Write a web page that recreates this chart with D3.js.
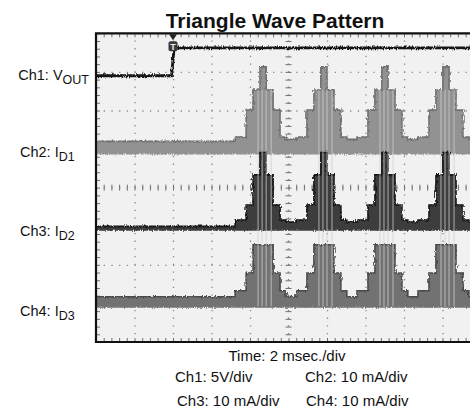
<!DOCTYPE html>
<html><head><meta charset="utf-8">
<script src="https://cdn.jsdelivr.net/npm/d3@7/dist/d3.min.js"></script>
<style>
html,body{margin:0;padding:0;background:#fff;}
svg{display:block;font-family:"Liberation Sans",Arial,sans-serif;}
</style></head>
<body>
<svg id="chart" width="470" height="413"></svg>
<script>
// ---------------- data ----------------
// time in ms (2 ms/div, 10 div), trigger at 4 ms
const ch1Times = [0, 3.92, 4.06, 20];          // ms
const ch1Volts = [0, 0, 3.6, 3.6];             // V (5 V/div), relative to Ch1 ground
const peakTimes = [8.68, 11.84, 15.01, 18.18, 21.35];   // ms, centre of each triangle burst
// step edges of one burst, ms relative to the burst centre
const stepEdges = [-1.45, -0.88, -0.52, -0.16, 0.16, 0.52, 0.88, 1.19, 1.71];
// current levels of the staircase between the edges (mA, 10 mA/div)
const ch2Levels = [2.8, 9.8, 15.0, 21.0, 15.0, 9.8, 2.8, 2.2];
const ch3Levels = [2.2, 6.1, 13.9, 19.7, 13.9, 6.1, 2.2, 1.7];
const ch4Levels = [3.0, 7.6, 14.9, 14.9, 14.9, 7.6, 3.0, 1.2];
// switching glitches inside each burst, ms relative to burst centre
const glitchOffsets = [-0.26, -0.05, 0.16, 0.42];
const labelTexts = [["Ch1: V","OUT"],["Ch2: I","D1"],["Ch3: I","D2"],["Ch4: I","D3"]];
const footTexts = ["Time: 2 msec./div","Ch1: 5V/div","Ch2: 10 mA/div","Ch3: 10 mA/div","Ch4: 10 mA/div"];

// ---------------- layout ----------------
const svg = d3.select("#chart");
const L = 96, T = 33.3, B = 342, divPx = 38.5;
const R = L + 10 * divPx;
const x = d3.scaleLinear().domain([0, 20]).range([L, R]);
const y = d3.scaleLinear().domain([0, 8]).range([B, T]);

const defs = svg.append("defs");
defs.append("clipPath").attr("id","plotclip").append("rect")
  .attr("x", L).attr("y", T).attr("width", R - L).attr("height", B - T);
const f = defs.append("filter").attr("id","noise").attr("x","-2%").attr("y","-30%").attr("width","104%").attr("height","160%");
f.append("feTurbulence").attr("type","fractalNoise").attr("baseFrequency","0.9 0.25").attr("numOctaves",2).attr("seed",4).attr("result","n");
f.append("feDisplacementMap").attr("in","SourceGraphic").attr("in2","n").attr("scale",3.5)
  .attr("xChannelSelector","R").attr("yChannelSelector","G");

// background of screen
svg.append("rect").attr("x", L).attr("y", T).attr("width", R - L).attr("height", B - T).attr("fill", "#f1f1f1");

const plot = svg.append("g").attr("clip-path","url(#plotclip)");

// ---------------- graticule via axes ----------------
const dot = "1.3 " + (divPx / 5 - 1.3);
const vGrid = plot.append("g").attr("transform", `translate(0,${B})`)
  .call(d3.axisBottom(x).tickValues([2,4,6,8,12,14,16,18]).tickSize(-(B - T)).tickFormat(""));
const hGrid = plot.append("g").attr("transform", `translate(${L},0)`)
  .call(d3.axisLeft(y).tickValues([1,2,3,5,6,7]).tickSize(-(R - L)).tickFormat(""));
[vGrid, hGrid].forEach(g => {
  g.select(".domain").remove();
  g.selectAll("line").attr("stroke", "#8a8a8a").attr("stroke-width", 1.3).attr("stroke-dasharray", dot);
});
// centre lines with minor ticks
const minorX = d3.range(0, 20.001, 0.4);
const minorY = d3.range(0, 8.001, 0.2);
const cxl = plot.append("g").attr("transform", `translate(0,${y(4) - 3})`)
  .call(d3.axisBottom(x).tickValues(minorX).tickSize(6).tickFormat(""));
const cyl = plot.append("g").attr("transform", `translate(${x(10) - 3},0)`)
  .call(d3.axisRight(y).tickValues(minorY).tickSize(6).tickFormat(""));
const edgeB = plot.append("g").attr("transform", `translate(0,${B})`)
  .call(d3.axisTop(x).tickValues(minorX).tickSize(4).tickFormat(""));
const edgeT = plot.append("g").attr("transform", `translate(0,${T})`)
  .call(d3.axisBottom(x).tickValues(minorX).tickSize(4).tickFormat(""));
const edgeL = plot.append("g").attr("transform", `translate(${L},0)`)
  .call(d3.axisRight(y).tickValues(minorY).tickSize(4).tickFormat(""));
[cxl, cyl, edgeB, edgeT, edgeL].forEach(g => {
  g.select(".domain").remove();
  g.selectAll("line").attr("stroke", "#707070").attr("stroke-width", 1);
});
plot.append("line").attr("x1", L).attr("x2", R).attr("y1", y(4)).attr("y2", y(4))
  .attr("stroke", "#7a7a7a").attr("stroke-width", 1.3).attr("stroke-dasharray", dot);
plot.append("line").attr("x1", x(10)).attr("x2", x(10)).attr("y1", B).attr("y2", T)
  .attr("stroke", "#7a7a7a").attr("stroke-width", 1.3).attr("stroke-dasharray", dot);

// ---------------- channel traces ----------------
function buildSeries(levels) {
  const pts = [{t: 0, v: 0}];
  peakTimes.forEach(p => {
    levels.forEach((lv, i) => pts.push({t: p + stepEdges[i], v: lv}));
  });
  pts.push({t: peakTimes[peakTimes.length - 1] + stepEdges[stepEdges.length - 1], v: 0});
  pts.push({t: 24, v: 0});
  return pts;
}
const channels = [
  {levels: ch2Levels, ground: 5.03, band: 6.5, fill: "#929292", edge: "#707070"},
  {levels: ch3Levels, ground: 2.94, band: 2.2, fill: "#3c3c3c", edge: "#151515"},
  {levels: ch4Levels, ground: 1.03, band: 5.5, fill: "#727272", edge: "#4a4a4a"}
];
channels.forEach(c => {
  const data = buildSeries(c.levels);
  const yv = d => Math.min(y(c.ground + d.v / 10), y(c.ground) - c.band);
  const area = d3.area().curve(d3.curveStepAfter)
    .x(d => x(d.t)).y0(y(c.ground) + c.band).y1(yv);
  plot.append("path").datum(data).attr("d", area).attr("fill", c.fill).attr("filter", "url(#noise)");
  const top = d3.line().curve(d3.curveStepAfter).x(d => x(d.t)).y(yv);
  plot.append("path").datum(data).attr("d", top).attr("fill", "none")
    .attr("stroke", c.edge).attr("stroke-width", 1.6).attr("filter", "url(#noise)");
});
// light switching glitches crossing the bursts
const glitches = [];
peakTimes.forEach(p => glitchOffsets.forEach(o => glitches.push(p + o)));
plot.append("g").selectAll("line").data(glitches).join("line")
  .attr("x1", d => x(d)).attr("x2", d => x(d))
  .attr("y1", y(5.03 + 1.5)).attr("y2", y(1.03) + 4)
  .attr("stroke", "#cfcfcf").attr("stroke-width", 1.1).attr("opacity", 0.7);

// Ch1
const ch1 = ch1Times.map((t, i) => ({t, v: ch1Volts[i]}));
plot.append("path").datum(ch1)
  .attr("d", d3.line().x(d => x(d.t)).y(d => y(6.90 + d.v / 5)))
  .attr("fill", "none").attr("stroke", "#161616").attr("stroke-width", 2.8).attr("filter", "url(#noise)");

// frame
svg.append("path").attr("d", `M${R},${T}H${L}V${B}H${R}`).attr("fill","none").attr("stroke","#111").attr("stroke-width",2.2);

// trigger marker
const tx = x(4);
svg.append("path").attr("d", `M${tx-4},${T+1}L${tx+4},${T+1}L${tx},${T+7}Z`).attr("fill","#222");
svg.append("rect").attr("x", tx-4.5).attr("y", T+8).attr("width", 9).attr("height", 10).attr("rx", 2).attr("fill","#3a3a3a");
svg.append("text").attr("x", tx).attr("y", T+16.5).attr("text-anchor","middle").attr("font-size",9).attr("font-weight","bold").attr("fill","#eee").text("T");

// ---------------- text ----------------
svg.append("text").attr("x", 275).attr("y", 28).attr("text-anchor","middle")
  .attr("font-size", 21).attr("font-weight","bold").attr("fill","#111").text("Triangle Wave Pattern");

const labelY = [80, 157, 236, 316];
labelTexts.forEach((lt, i) => {
  const t = svg.append("text").attr("y", labelY[i]).attr("font-size", 14.5).attr("fill","#111");
  t.append("tspan").text(lt[0]);
  t.append("tspan").attr("dy", 3.5).attr("font-size", 12.5).text(lt[1]);
  if (i === 0) t.attr("x", 89).attr("text-anchor","end"); else t.attr("x", 20);
});
svg.append("text").attr("x", 287).attr("y", 361).attr("text-anchor","middle").attr("font-size",15).attr("fill","#111").text(footTexts[0]);
const fx = [175, 305, 177, 306], fy = [382, 382, 406, 406];
footTexts.slice(1).forEach((s, i) => {
  svg.append("text").attr("x", fx[i]).attr("y", fy[i]).attr("font-size",15).attr("fill","#111").text(s);
});
</script>
</body></html>
